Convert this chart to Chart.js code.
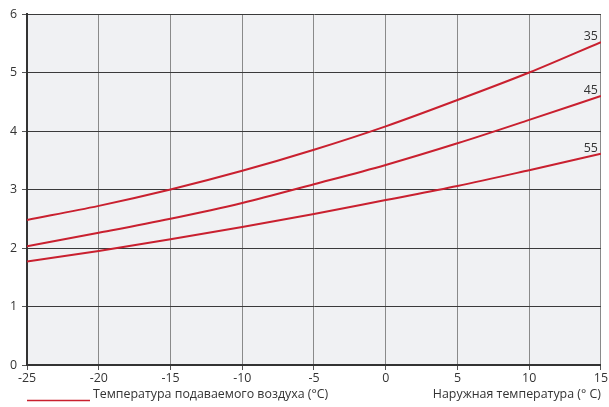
<!DOCTYPE html>
<html>
<head>
<meta charset="utf-8">
<script src="https://cdn.jsdelivr.net/npm/chart.js@4/dist/chart.umd.min.js"></script>
<style>
  html, body { margin: 0; padding: 0; background: #fff; }
  #wrap { width: 609px; height: 407px; }
</style>
</head>
<body>
<div id="wrap"><canvas id="c" width="609" height="407"></canvas></div>
<script>
// Outdoor temperature points (°C)
const outdoorTemps = [-25, -20, -15, -10, -5, 0, 5, 10, 15];
// Curves per supply air temperature
const curve35 = [2.48, 2.72, 3.00, 3.32, 3.68, 4.08, 4.53, 5.00, 5.52];
const curve45 = [2.03, 2.26, 2.50, 2.77, 3.09, 3.42, 3.79, 4.19, 4.60];
const curve55 = [1.77, 1.95, 2.15, 2.36, 2.58, 2.82, 3.06, 3.33, 3.61];
const curveNames = ['35', '45', '55'];
const xTicks = [-25, -20, -15, -10, -5, 0, 5, 10, 15];
const yTicks = [0, 1, 2, 3, 4, 5, 6];
const legendText = 'Температура подаваемого воздуха (°C)';
const xAxisTitle = 'Наружная температура (° C)';

const RED = '#c9202f';
const FONT = '"Open Sans", "DejaVu Sans", sans-serif';
const FONT_SIZE = 12.4;

const toPoints = arr => outdoorTemps.map((x, i) => ({ x, y: arr[i] }));

const bgPlugin = {
  id: 'plotBg',
  beforeDraw(chart) {
    const { ctx, chartArea: a } = chart;
    ctx.save();
    ctx.fillStyle = '#f0f1f3';
    ctx.fillRect(a.left, a.top, a.right - a.left, a.bottom - a.top);
    ctx.restore();
  }
};

const labelsPlugin = {
  id: 'curveLabels',
  afterDatasetsDraw(chart) {
    const { ctx, chartArea: a } = chart;
    ctx.save();
    ctx.font = FONT_SIZE + 'px ' + FONT;
    ctx.fillStyle = '#333';
    ctx.textAlign = 'right';
    ctx.textBaseline = 'alphabetic';
    chart.data.datasets.forEach((ds, i) => {
      const meta = chart.getDatasetMeta(i);
      const last = meta.data[meta.data.length - 1];
      ctx.fillText(curveNames[i], a.right - 3, last.y - 2);
    });
    // legend line + text
    ctx.strokeStyle = RED;
    ctx.lineWidth = 1.5;
    ctx.beginPath();
    ctx.moveTo(27, 400.5);
    ctx.lineTo(90, 400.5);
    ctx.stroke();
    ctx.textAlign = 'left';
    ctx.fillText(legendText, 93, 397.5);
    ctx.textAlign = 'right';
    ctx.fillText(xAxisTitle, a.right, 397.5);
    ctx.restore();
  }
};

const mkDs = arr => ({
  data: toPoints(arr),
  borderColor: RED,
  borderWidth: 2,
  pointRadius: 0,
  cubicInterpolationMode: 'monotone',
  fill: false
});

new Chart(document.getElementById('c'), {
  type: 'line',
  data: { datasets: [mkDs(curve35), mkDs(curve45), mkDs(curve55)] },
  options: {
    responsive: false,
    animation: false,
    devicePixelRatio: 1,
    layout: { padding: { top: 14, right: 8, bottom: 22, left: 0 } },
    plugins: { legend: { display: false }, tooltip: { enabled: false } },
    scales: {
      x: {
        type: 'linear',
        min: -25, max: 15,
        afterBuildTicks: s => { s.ticks = xTicks.map(v => ({ value: v })); },
        afterFit: s => { s.height = 20; },
        grid: { color: '#8a8a8a', lineWidth: 1, tickLength: 5, tickColor: '#555' },
        border: { color: '#333', width: 2 },
        ticks: { color: '#333', font: { family: FONT, size: FONT_SIZE }, padding: 1, maxRotation: 0 }
      },
      y: {
        min: 0, max: 6,
        afterBuildTicks: s => { s.ticks = yTicks.map(v => ({ value: v })); },
        afterFit: s => { s.width = 27; },
        grid: { color: '#3a3a3a', lineWidth: 1, tickLength: 5, tickColor: '#555' },
        border: { color: '#333', width: 2 },
        ticks: { color: '#333', font: { family: FONT, size: FONT_SIZE }, padding: 5 }
      }
    }
  },
  plugins: [bgPlugin, labelsPlugin]
});
</script>
</body>
</html>
